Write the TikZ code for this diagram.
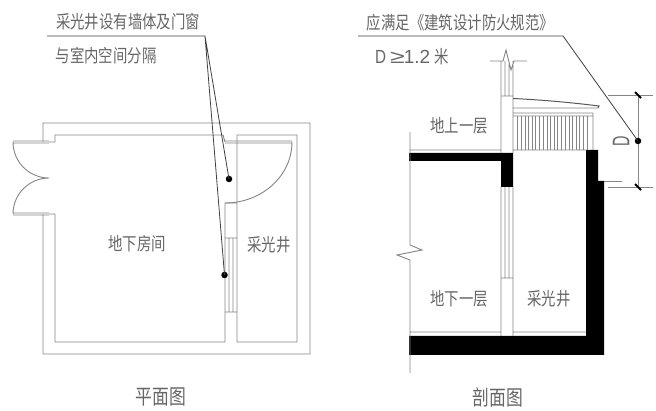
\documentclass[tikz,border=0pt]{standalone}
\usepackage{fontspec}
\setmainfont{Liberation Sans}
\newfontfamily\cjk[FakeStretch=0.8]{Noto Sans CJK SC}
\usetikzlibrary{
    calc,
    positioning
}
\definecolor{linegray}{HTML}{858585}
\definecolor{textgray}{HTML}{666666}
\tikzset{
    wall/.style={draw=linegray, line width=0.9pt},
    leader/.style={draw=black!75, line width=0.8pt},
    dotmark/.style={circle, fill=black, inner sep=0pt, minimum size=6.5pt},
    label/.style={text=textgray, inner sep=0pt, font=\cjk\fontsize{18}{20}\selectfont},
    title/.style={text=textgray, inner sep=0pt, font=\cjk\fontsize{21}{23}\selectfont},
    tick/.style={draw=black, line width=1.8pt}
}

\begin{document}
\begin{tikzpicture}[x=1pt, y=-1pt]
    \useasboundingbox (0, 0) rectangle (656, 411);

    \begin{scope}
        \node[label] (planNoteTop) at (128, 22) {采光井设有墙体及门窗};
        \node[label] (planNoteBottom) at (106, 56) {与室内空间分隔};
        \node[label] (planRoom) at (137, 244) {地下房间};
        \node[label] (planWell) at (269, 245) {采光井};
        \node[title] (planTitle) at (161, 397) {平面图};

        \draw[wall]
        (43, 142) -- (43, 123) -- (310, 123) -- (310, 354) -- (43, 354) -- (43, 214)
        (49, 142) -- (55, 142) -- (55, 135) -- (223, 135) -- (225, 142)
        (49, 214) -- (55, 214) -- (55, 342) -- (225, 342) -- (225, 203)
        (237, 342) -- (297, 342) -- (297, 135) -- (237, 135) -- (237, 342)
        (225, 203) -- (237, 203)
        (225, 238) -- (237, 238)
        (225, 312) -- (237, 312)
        (229, 238) -- (229, 312)
        (233, 238) -- (233, 312);

        \draw[wall]
        (13, 141) -- (49, 141)
        (13, 143) -- (49, 143)
        (13, 213) -- (49, 213)
        (13, 215) -- (49, 215)
        (225, 141) -- (292, 141)
        (225, 143) -- (292, 143)
        (13, 142) arc[start angle=180, end angle=90, x radius=36, y radius=36]
        (13, 214) arc[start angle=180, end angle=270, x radius=36, y radius=36]
        (292, 142) arc[start angle=0, end angle=90, x radius=67, y radius=61];

        \coordinate (planLeadStart) at (47, 36);
        \coordinate (planLeadKnee) at (205, 36);
        \node[dotmark] (planDoorDot) at (229, 179) {};
        \node[dotmark] (planWindowDot) at (224.5, 275) {};
        \draw[leader]
        (planLeadStart) -- (planLeadKnee) -- (planDoorDot.center)
        (planLeadKnee) -- (planWindowDot.center);
    \end{scope}

    \begin{scope}
        \node[label] (sectionNote) at (460.5, 23) {应满足《建筑设计防火规范》};
        \node[text=textgray, inner sep=0pt, anchor=west, font=\fontsize{19}{21}\selectfont] (sectionRule) at (375, 57) {\scalebox{0.8}[1]{D}\hspace{4pt}\scalebox{1.4}[1]{≥}\hspace{-1pt}1.2\hspace{4pt}{\cjk\fontsize{18}{20}\selectfont 米}};
        \node[label] (sectionUpper) at (459, 126) {地上一层};
        \node[label] (sectionLower) at (459, 299) {地下一层};
        \node[label] (sectionWell) at (549, 299) {采光井};
        \node[title] (sectionTitle) at (498, 397) {剖面图};
        \node[text=textgray, inner sep=0pt, rotate=90, font=\fontsize{24}{26}\selectfont] (sectionDim) at (621, 141) {\scalebox{0.6}[1]{D}};

        \fill[black]
        (409, 153) -- (513, 153) -- (513, 187) -- (501, 187) -- (501, 161) -- (409, 161) -- cycle
        (586, 150) -- (598, 150) -- (598, 181) -- (604, 181) -- (604, 355) -- (409, 355) -- (409, 336) -- (586, 336) -- cycle;

        \draw[wall]
        (410, 132) -- (410, 245) -- (422, 250) -- (397, 255) -- (410, 260) -- (410, 373)
        (410, 150) -- (501, 150)
        (513, 150) -- (586, 150)
        (410, 332) -- (501, 332)
        (513, 332) -- (586, 332)
        (501, 96) -- (513, 96)
        (501, 96) -- (501, 153)
        (513, 96) -- (513, 153)
        (501, 61) -- (501, 96)
        (505, 61) -- (505, 96)
        (509, 64) -- (509, 96)
        (513, 61) -- (513, 96)
        (490, 61) -- (503, 61) -- (506, 50) -- (511, 70) -- (514, 61) -- (527, 61)
        (501, 187) -- (501, 336)
        (505, 187) -- (505, 278)
        (509, 187) -- (509, 278)
        (513, 187) -- (513, 336)
        (501, 278) -- (513, 278)
        (513, 108) -- (598, 108)
        (513, 113) -- (593, 113)
        (513, 116) -- (593, 116)
        (593, 113) -- (593, 150);

        \draw[draw=black!65, line width=1pt]
        (513, 98.5) .. controls (545, 100) and (575, 103) .. (599, 106) -- (598, 108);

        \foreach \barx in {517.7, 525, 532.4, 539.7, 547, 554.4, 561.7, 569, 576.4, 583.7} {
            \draw[wall, line width=0.7pt]
            (\barx, 116) -- (\barx, 150)
            (\barx + 3.3, 116) -- (\barx + 3.3, 150);
        }

        \draw[wall]
        (604, 181) -- (622, 181)
        (608, 95) -- (653, 95)
        (608, 187) -- (653, 187)
        (638, 95) -- (638, 187);
        \draw[tick]
        (635, 92) -- (641, 98)
        (635, 184) -- (641, 190);

        \coordinate (sectionLeadStart) at (358, 36);
        \coordinate (sectionLeadKnee) at (563, 36);
        \node[dotmark] (sectionDimDot) at (638, 141) {};
        \draw[leader] (sectionLeadStart) -- (sectionLeadKnee) -- (sectionDimDot.center);
    \end{scope}
\end{tikzpicture}
\end{document}
